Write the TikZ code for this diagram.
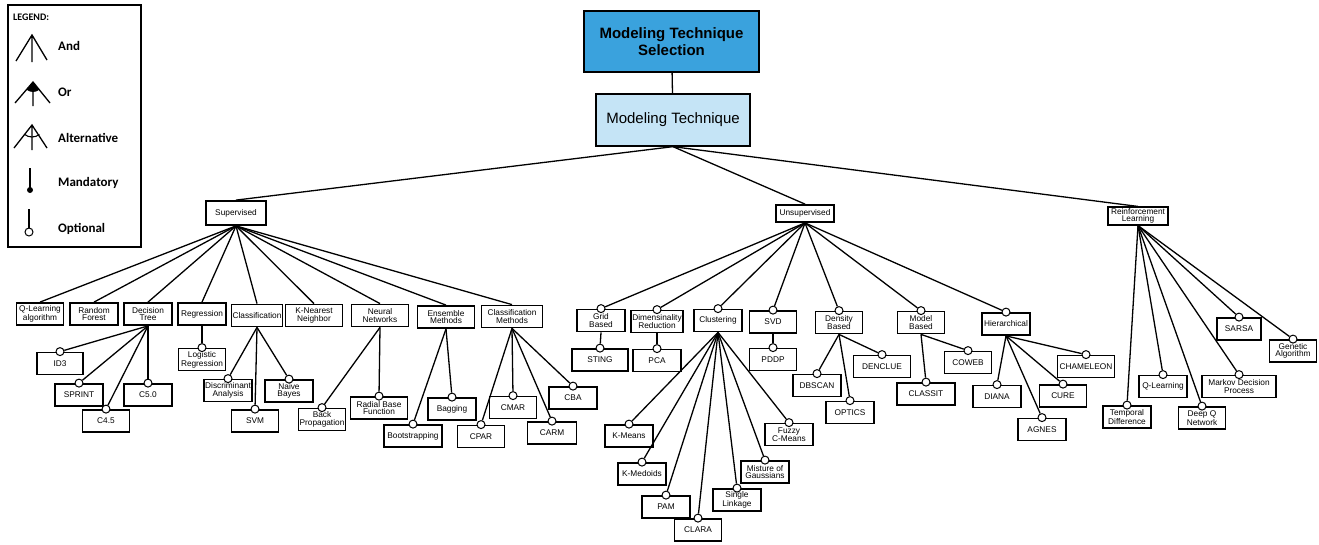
\documentclass[tikz,border=0pt]{standalone}
\usepackage{fontspec}
\setmainfont{Liberation Sans}
\newfontfamily\lgfont{Carlito}
\definecolor{selblue}{RGB}{58,162,221}
\definecolor{mtblue}{RGB}{197,228,246}

\begin{document}
\begin{tikzpicture}[x=1pt,y=-1pt,
  box/.style={draw,line width=1.8pt,minimum width=48pt,minimum height=22pt,inner sep=1pt,align=center,font=\fontsize{8.3}{7.6}\selectfont},
  opt/.style={draw,circle,fill=white,line width=1pt,minimum size=8pt,inner sep=0pt},
  edge/.style={line width=1.3pt},
  lgtext/.style={anchor=west,inner sep=0pt,font=\lgfont\bfseries\fontsize{13}{13}\selectfont}]
\useasboundingbox (0,0) rectangle (1319,544);

% legend
\draw[line width=1.3pt] (8,5) rectangle (141,247);
\node[anchor=west,inner sep=0pt,font=\lgfont\bfseries\fontsize{10}{10}\selectfont] (lgtitle) at (13,17) {LEGEND:};
\draw[edge] (16,61) -- (32,35) -- (47,60) (32,35) -- (32,62);
\fill (33,82) -- ++(50:10) arc[start angle=50,end angle=130,radius=10] -- cycle;
\draw[edge] (15,103) -- (33,82) -- (50,103) (33,82) -- (33,106);
\draw[edge] (14,148) -- (32,125) -- (47,148) (32,125) -- (32,150);
\draw[line width=1.1pt] (32,125) ++(52:12) arc[start angle=52,end angle=128,radius=12];
\draw[edge] (30,168) -- (30,188);
\fill (30,190) circle[radius=3];
\draw[edge] (29,209) -- (29,228);
\draw[line width=1pt] (29,232) circle[radius=4];
\node[lgtext] (lgand) at (58,46) {And};
\node[lgtext] (lgor) at (58,92) {Or};
\node[lgtext] (lgalt) at (58,138) {Alternative};
\node[lgtext] (lgman) at (58,183) {Mandatory};
\node[lgtext] (lgopt) at (58,229) {Optional};

% top
\node[draw,line width=1.3pt,fill=selblue,minimum width=175pt,minimum height=61pt,align=center,
  font=\bfseries\fontsize{15}{17.5}\selectfont] (sel) at (671.5,41.5) {Modeling Technique\\Selection};
\node[draw,line width=1.3pt,fill=mtblue,minimum width=154pt,minimum height=52pt,
  font=\fontsize{15}{17}\selectfont] (mt) at (673,120) {Modeling Technique};
\draw[edge] (sel) -- (mt);

\node[box,minimum width=60pt,minimum height=24pt] (sup) at (236,213) {Supervised};
\node[box,minimum width=58pt,minimum height=17pt] (unsup) at (805,213.5) {Unsupervised};
\node[box,minimum width=60pt,minimum height=16pt] (rl) at (1138,216) {Reinforcement\\Learning};
\foreach \c in {sup,unsup,rl}
  \draw[edge] (mt.south) -- (\c.north);

% supervised
\foreach \n/\x/\y/\w/\t in {qla/40/314/47/{Q-Learning\\algorithm}, rf/94/314/48/{Random\\Forest},
    dt/148/314/48/{Decision\\Tree}, reg/202/314/48/Regression, cls/257/315.5/49/Classification,
    knn/314/315.5/57/{K-Nearest\\Neighbor}, nn/380/315.5/57/{Neural\\Networks},
    ens/446/317/57/{Ensemble\\Methods}, cm/512/316.5/61/{Classification\\Methods}}
  {\node[box,minimum width=\w pt] (\n) at (\x,\y) {\t};
   \draw[edge] (sup.south) -- (\n.north);}

\foreach \n/\x/\y/\w/\t in {id3/60/363.5/46/ID3, sprint/79/395/48/SPRINT, c45/106/421/47/C4.5,
    c50/148/395/48/C5.0, logreg/202/359.5/47/{Logistic\\Regression},
    disc/228/390.5/47/{Discriminant\\Analysis}, svm/255/421/47/SVM, nb/289/391/48/{Naive\\Bayes},
    bp/322/419.5/47/{Back\\Propagation}, rbf/379/408/57/{Radial Base\\Function},
    boot/413/436/58/Bootstrapping, bag/452/409/48/Bagging, cpar/481/436.5/47/CPAR,
    cmar/513/407.5/47/CMAR, carm/552/433/49/CARM, cba/573/398/48/CBA}
  \node[box,minimum width=\w pt] (\n) at (\x,\y) {\t};

% unsupervised
\foreach \n/\x/\y/\w/\t in {grid/601/320.5/48/{Grid\\Based}, dim/657/321.5/48/{Dimensinality\\Reduction},
    clu/718/320.5/48/Clustering, svd/773/322/47/SVD, dens/839/322.5/47/{Density\\Based},
    mb/921/322.5/47/{Model\\Based}, hier/1006/324/48/Hierarchical,
    sting/600/360/56/STING, pca/657/360.5/48/PCA, pddp/773/359.5/47/PDDP,
    kmeans/629/436/48/K-Means, kmed/642/474/48/K-Medoids, pam/666/507/48/PAM,
    clara/698/530/47/CLARA, single/737/500/48/{Single\\Linkage},
    misture/765/472/48/{Misture of\\Gaussians}, fuzzy/789/434.5/48/{Fuzzy\\C-Means},
    dbscan/817/385.5/48/DBSCAN, optics/850/412.5/48/OPTICS, denclue/882/366.5/57/DENCLUE,
    coweb/968/362.5/47/COWEB, classit/926/394/58/CLASSIT, diana/997/396.5/48/DIANA,
    agnes/1042/429.5/48/AGNES, cure/1063/396/47/CURE, cham/1086/366.5/57/CHAMELEON}
  \node[box,minimum width=\w pt] (\n) at (\x,\y) {\t};

% reinforcement learning
\foreach \n/\x/\y/\w/\t in {td/1127/417/48/{Temporal\\Difference}, ql/1163/386.5/48/Q-Learning,
    dqn/1202/418/47/{Deep Q\\Network}, mdp/1239/386.5/74/{Markov Decision\\Process},
    sarsa/1239/329/44/SARSA, ga/1293/351/47/{Genetic\\Algorithm}}
  \node[box,minimum width=\w pt] (\n) at (\x,\y) {\t};

% optional features
\foreach \p/\c in {dt/id3, dt/sprint, dt/c45, dt/c50, reg/logreg, cls/disc, cls/svm, cls/nb,
    nn/bp, nn/rbf, ens/boot, ens/bag, cm/cpar, cm/cmar, cm/carm, cm/cba,
    unsup/grid, unsup/dim, unsup/clu, unsup/svd, unsup/dens, unsup/mb, unsup/hier,
    grid/sting, dim/pca, svd/pddp,
    clu/kmeans, clu/kmed, clu/pam, clu/clara, clu/single, clu/misture, clu/fuzzy,
    dens/dbscan, dens/optics, dens/denclue, mb/coweb, mb/classit,
    hier/diana, hier/agnes, hier/cure, hier/cham,
    rl/td, rl/ql, rl/dqn, rl/mdp, rl/sarsa, rl/ga}
  {\node[opt] (\c-o) at (\c.north) {};
   \draw[edge] (\p.south) -- (\c-o);}
\end{tikzpicture}
\end{document}
